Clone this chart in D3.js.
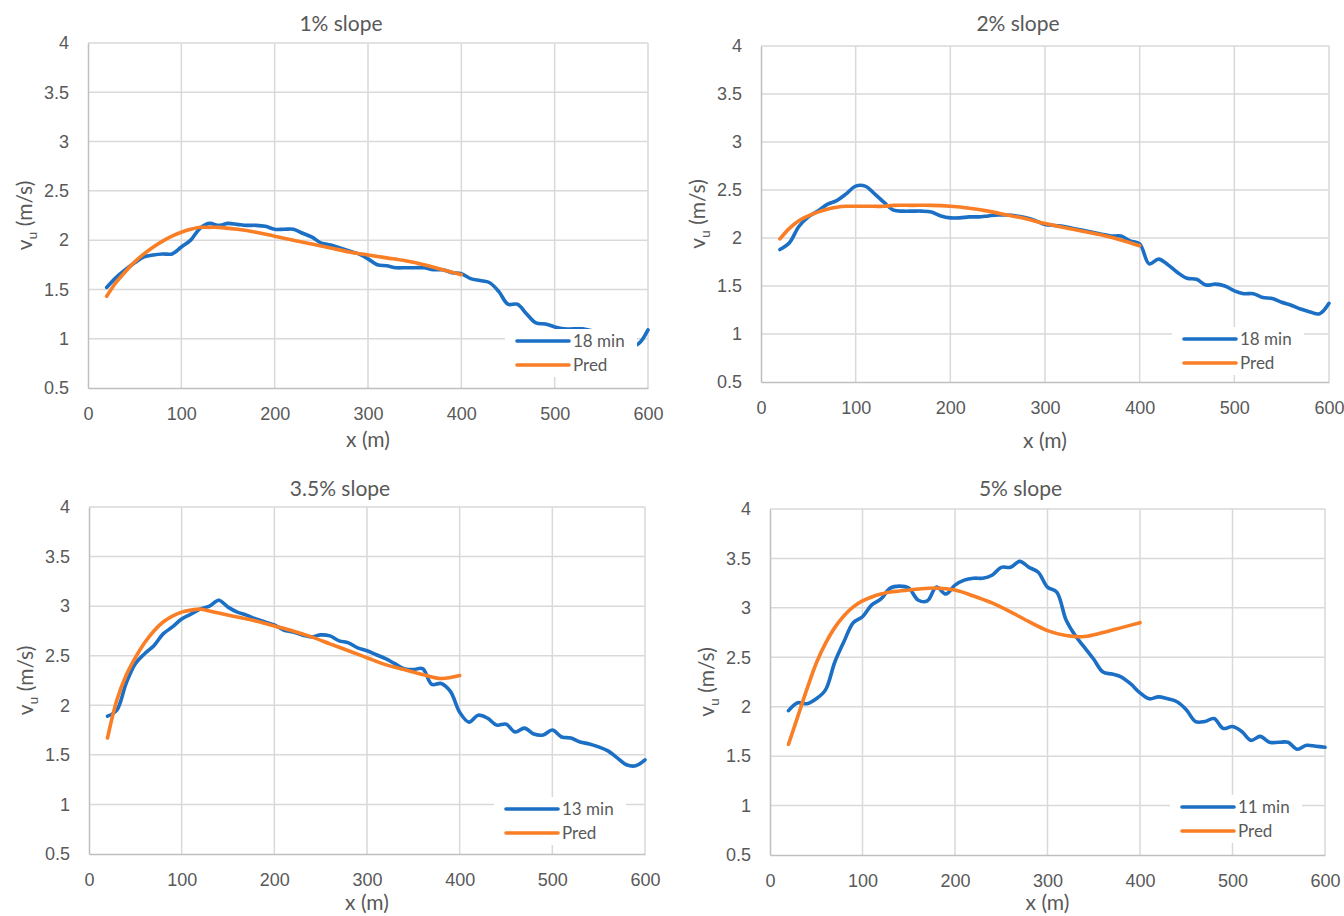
<!DOCTYPE html>
<html>
<head>
<meta charset="utf-8">
<script src="https://cdn.jsdelivr.net/npm/d3@7"></script>
<style>
  html, body { margin: 0; padding: 0; background: #fff; }
  svg { display: block; font-family: "Lato", "Open Sans", sans-serif; }
</style>
</head>
<body>
<svg id="chart" width="1344" height="916"></svg>
<script>
// Measured stations along the slope (m)
const xMeasured = [20,30,40,50,60,70,80,90,100,110,120,130,140,150,160,170,180,190,200,
  210,220,230,240,250,260,270,280,290,300,310,320,330,340,350,360,370,380,390,400,
  410,420,430,440,450,460,470,480,490,500,510,520,530,540,550,560,570,580,590,600];

// Stations of the predicted profile (m)
const xPred = [20,30,40,50,60,70,80,90,100,110,120,130,140,160,180,200,220,240,260,280,300,320,340,360,380,400];

// Measured velocity v_u (m/s)
const measured1 = [1.52,1.62,1.70,1.77,1.83,1.85,1.86,1.86,1.93,2.00,2.12,2.17,2.15,2.17,2.16,2.15,2.15,2.14,2.11,
  2.11,2.11,2.07,2.03,1.97,1.95,1.92,1.89,1.86,1.81,1.75,1.74,1.72,1.72,1.72,1.72,1.70,1.70,1.67,1.66,
  1.61,1.59,1.57,1.48,1.35,1.35,1.25,1.16,1.15,1.12,1.10,1.10,1.10,1.08,1.05,1.00,0.95,0.92,0.95,1.09];
const measured2 = [1.88,1.95,2.12,2.22,2.28,2.35,2.39,2.46,2.54,2.54,2.46,2.37,2.29,2.28,2.28,2.28,2.27,2.23,2.21,
  2.21,2.22,2.22,2.23,2.24,2.24,2.23,2.21,2.18,2.14,2.13,2.12,2.10,2.08,2.06,2.04,2.02,2.02,1.97,1.94,
  1.73,1.78,1.72,1.64,1.58,1.57,1.51,1.52,1.50,1.45,1.42,1.42,1.38,1.37,1.33,1.30,1.26,1.23,1.21,1.32];
const measured35 = [1.89,1.95,2.22,2.42,2.52,2.60,2.72,2.79,2.87,2.92,2.97,3.00,3.06,2.99,2.94,2.91,2.87,2.84,2.81,
  2.76,2.74,2.71,2.69,2.71,2.70,2.65,2.63,2.58,2.55,2.51,2.47,2.42,2.37,2.36,2.37,2.21,2.22,2.14,1.93,
  1.83,1.90,1.87,1.80,1.81,1.73,1.77,1.71,1.70,1.75,1.68,1.67,1.63,1.61,1.58,1.54,1.47,1.40,1.39,1.45];
const measured5 = [1.96,2.04,2.03,2.08,2.17,2.45,2.66,2.85,2.91,3.03,3.09,3.20,3.22,3.20,3.08,3.07,3.21,3.14,3.23,
  3.28,3.30,3.30,3.33,3.41,3.41,3.47,3.41,3.36,3.21,3.16,2.88,2.72,2.60,2.48,2.35,2.33,2.30,2.23,2.14,
  2.08,2.10,2.08,2.05,1.97,1.85,1.85,1.88,1.78,1.80,1.75,1.66,1.70,1.64,1.64,1.64,1.57,1.61,1.60,1.59];

// Predicted velocity (m/s)
const pred1 = [1.43,1.57,1.68,1.78,1.86,1.93,1.99,2.04,2.08,2.11,2.13,2.13,2.13,2.11,2.08,2.04,2.00,1.96,1.92,1.88,1.85,1.82,1.79,1.75,1.70,1.65];
const pred2 = [1.99,2.10,2.18,2.23,2.27,2.30,2.32,2.33,2.33,2.33,2.33,2.33,2.34,2.34,2.34,2.33,2.31,2.28,2.24,2.20,2.15,2.11,2.07,2.03,1.98,1.92];
const pred35 = [1.67,2.05,2.30,2.48,2.63,2.75,2.84,2.90,2.94,2.96,2.97,2.95,2.93,2.89,2.85,2.80,2.75,2.69,2.62,2.55,2.48,2.41,2.36,2.31,2.27,2.30];
const pred5 = [1.62,1.90,2.18,2.44,2.64,2.80,2.92,3.01,3.07,3.11,3.14,3.16,3.17,3.19,3.20,3.18,3.12,3.05,2.96,2.86,2.77,2.72,2.71,2.75,2.80,2.85];

// Axis ticks and labels
const xTicks = [0,100,200,300,400,500,600];
const yTicks = [0.5,1,1.5,2,2.5,3,3.5,4];
const titles = ["1% slope","2% slope","3.5% slope","5% slope"];
const measuredNames = ["18 min","18 min","13 min","11 min"];
const predName = "Pred";

const BLUE = "#1b6fc4";
const ORANGE = "#f97e25";
const GRID = "#d9d9d9";
const AXIS = "#bfbfbf";
const TEXT = "#595959";

// Panel frames: plot box, title baselines and legend anchor
const frames = [
  { l: 88,  r: 648,  t: 43,  b: 388, titleY: 24,  xTitleY: 440, legX: 505,  legY: 329 },
  { l: 761, r: 1329, t: 46,  b: 382, titleY: 24,  xTitleY: 441, legX: 1172, legY: 327 },
  { l: 89,  r: 645,  t: 507, b: 854, titleY: 489, xTitleY: 903, legX: 494,  legY: 797 },
  { l: 770, r: 1325, t: 509, b: 855, titleY: 489, xTitleY: 903, legX: 1170, legY: 795 }
];
const measuredSets = [measured1, measured2, measured35, measured5];
const predSets = [pred1, pred2, pred35, pred5];

const svg = d3.select("#chart");

frames.forEach((f, i) => {
  const x = d3.scaleLinear().domain([0, 600]).range([f.l, f.r]);
  const y = d3.scaleLinear().domain([0.5, 4]).range([f.b, f.t]);
  const g = svg.append("g");

  // gridlines
  g.append("g").selectAll("line").data(yTicks.filter(v => v > 0.5)).join("line")
    .attr("x1", f.l).attr("x2", f.r)
    .attr("y1", d => y(d)).attr("y2", d => y(d))
    .attr("stroke", GRID).attr("stroke-width", 1.5);
  g.append("g").selectAll("line").data(xTicks.filter(v => v > 0)).join("line")
    .attr("x1", d => x(d)).attr("x2", d => x(d))
    .attr("y1", f.t).attr("y2", f.b)
    .attr("stroke", GRID).attr("stroke-width", 1.5);

  // axes
  const xAxis = d3.axisBottom(x).tickValues(xTicks).tickSize(0).tickPadding(19).tickFormat(d3.format("d"));
  const yAxis = d3.axisLeft(y).tickValues(yTicks).tickSize(0).tickPadding(19).tickFormat(d => String(d));
  const ax = g.append("g").attr("transform", `translate(0,${f.b})`).call(xAxis);
  const ay = g.append("g").attr("transform", `translate(${f.l},0)`).call(yAxis);
  [ax, ay].forEach(a => {
    a.select(".domain").attr("stroke", AXIS).attr("stroke-width", 1.5);
    a.selectAll("text").attr("fill", TEXT).style("font-size", "18px");
  });

  // series
  const line = d3.line().curve(d3.curveCatmullRom.alpha(0.5))
    .x(d => x(d[0])).y(d => y(d[1]));
  const mPts = xMeasured.map((xv, k) => [xv, measuredSets[i][k]]);
  const pPts = xPred.map((xv, k) => [xv, predSets[i][k]]);
  g.append("path").datum(mPts).attr("d", line)
    .attr("fill", "none").attr("stroke", BLUE).attr("stroke-width", 3.6)
    .attr("stroke-linecap", "round").attr("stroke-linejoin", "round");
  g.append("path").datum(pPts).attr("d", line)
    .attr("fill", "none").attr("stroke", ORANGE).attr("stroke-width", 3.6)
    .attr("stroke-linecap", "round").attr("stroke-linejoin", "round");

  // legend
  const lg = g.append("g").attr("transform", `translate(${f.legX},${f.legY})`);
  lg.append("rect").attr("width", 132).attr("height", 48).attr("fill", "#fff");
  [[measuredNames[i], BLUE], [predName, ORANGE]].forEach(([name, col], k) => {
    const yy = 12 + k * 24;
    lg.append("line").attr("x1", 12).attr("x2", 64).attr("y1", yy).attr("y2", yy)
      .attr("stroke", col).attr("stroke-width", 3.6).attr("stroke-linecap", "round");
    lg.append("text").attr("x", 68).attr("y", yy).attr("dy", "0.35em")
      .attr("fill", TEXT).style("font-size", "17px").text(name);
  });

  // titles
  g.append("text").attr("x", (f.l + f.r) / 2 - 27).attr("y", f.titleY)
    .attr("text-anchor", "middle").attr("dy", "0.35em")
    .attr("fill", TEXT).style("font-size", "21px").text(titles[i]);
  g.append("text").attr("x", (f.l + f.r) / 2).attr("y", f.xTitleY)
    .attr("text-anchor", "middle").attr("dy", "0.35em")
    .attr("fill", TEXT).style("font-size", "21px").text("x (m)");
  const yt = g.append("text")
    .attr("transform", `translate(${f.l - 63},${(f.t + f.b) / 2}) rotate(-90)`)
    .attr("text-anchor", "middle").attr("dy", "0.35em")
    .attr("fill", TEXT).style("font-size", "21px");
  yt.append("tspan").text("v");
  yt.append("tspan").attr("dy", "5").style("font-size", "14px").text("u");
  yt.append("tspan").attr("dy", "-5").text(" (m/s)");
});
</script>
</body>
</html>
